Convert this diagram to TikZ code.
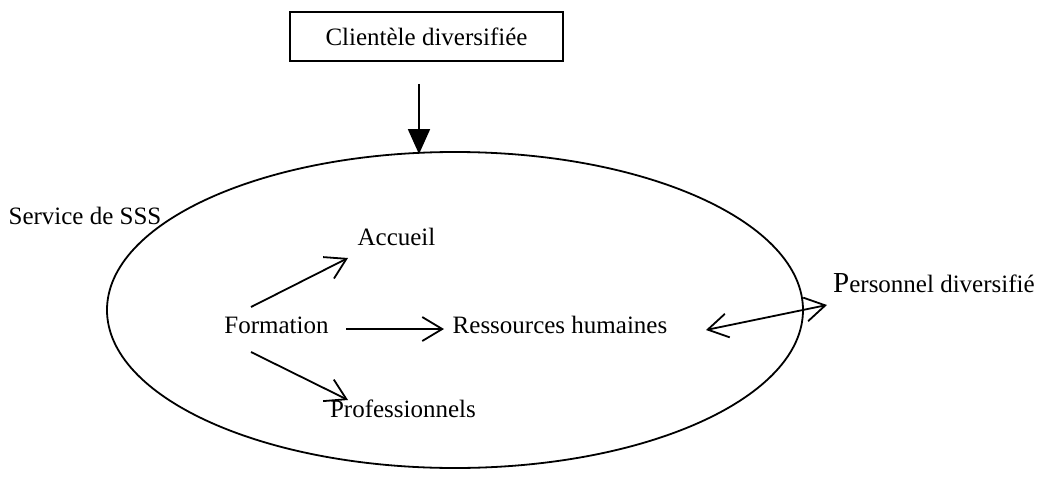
\documentclass[tikz,border=0pt]{standalone}
\usepackage{fontspec}
\setmainfont{Liberation Serif}
\usetikzlibrary{arrows.meta,calc,shapes.geometric}
\begin{document}
\begin{tikzpicture}[x=1pt,y=-1pt,
  lbl/.style={inner sep=0pt,font=\fontsize{25}{30}\selectfont},
  conn/.style={line width=1.8pt,-{Straight Barb[length=20pt,width=24pt]}},
  bconn/.style={line width=1.8pt,{Straight Barb[length=20pt,width=24pt]}-{Straight Barb[length=20pt,width=24pt]}},
  fconn/.style={line width=1.8pt,-{Triangle[length=25pt,width=22pt]}}]
\useasboundingbox (0,0) rectangle (1042,498);
\node[draw,line width=1.8pt,minimum width=273pt,minimum height=49pt,inner sep=0pt,font=\fontsize{25}{30}\selectfont] (box) at (426.5,36.5) {Clientèle diversifiée};
\node[draw,ellipse,line width=1.8pt,minimum width=696pt,minimum height=316pt,inner sep=0pt] (ell) at (455,310) {};
\node[lbl] (sss) at (85,216) {Service de SSS};
\node[lbl] (acc) at (396.5,236.5) {Accueil};
\node[lbl] (form) at (276.5,325) {Formation};
\node[lbl] (rh) at (560,325) {Ressources humaines};
\node[lbl] (prof) at (403,409) {Professionnels};
\node[lbl,anchor=base west] (pers) at (833,292) {{\fontsize{29}{34}\selectfont P}ersonnel diversifié};
\draw[fconn] ($(box.south)+(-7.5,22)$) -- ($(ell.north)+(-36,3)$);
\draw[conn] ($(form)+(-25.5,-18)$) -- ($(acc)+(-48.5,21.5)$);
\draw[conn] ($(form)+(69.5,4)$) -- ($(rh)+(-116,4)$);
\draw[conn] ($(form)+(-25.5,27)$) -- ($(prof)+(-55,-9)$);
\draw[bconn] ($(rh)+(146,5)$) -- ($(pers.base west)+(-6,13)$);
\end{tikzpicture}
\end{document}
